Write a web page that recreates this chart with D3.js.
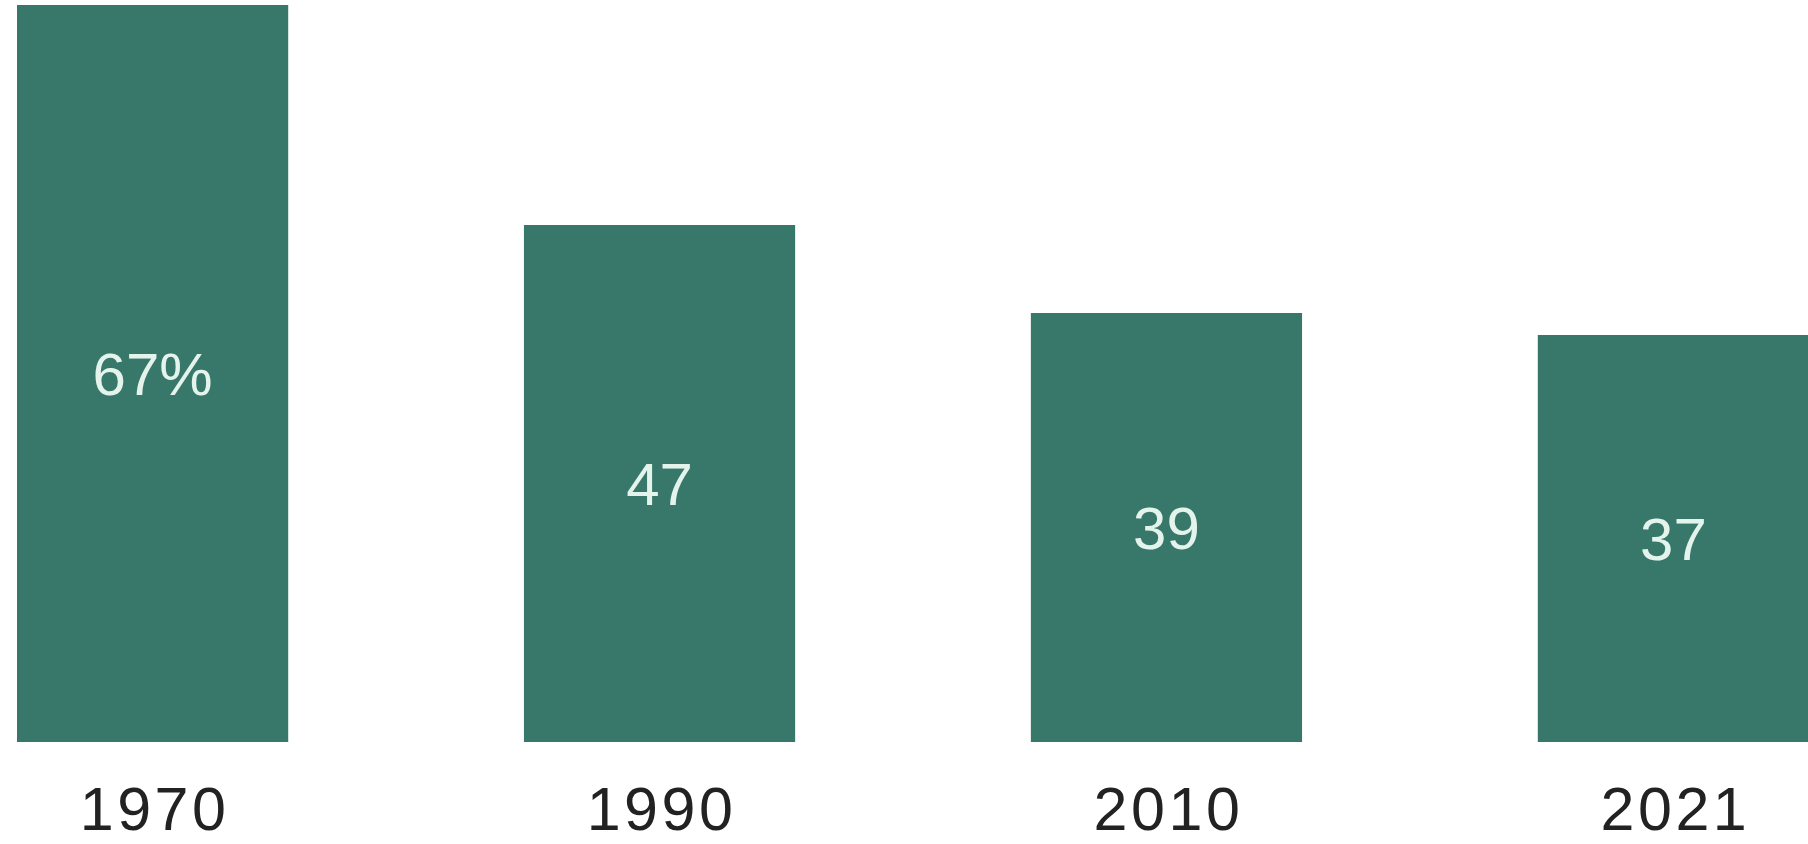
<!DOCTYPE html>
<html>
<head>
<meta charset="utf-8">
<script src="https://cdn.jsdelivr.net/npm/d3@7"></script>
<style>
  html, body { margin: 0; padding: 0; background: #fff; }
  svg { display: block; }
</style>
</head>
<body>
<svg id="chart"></svg>
<script>
// data
const years = ["1970", "1990", "2010", "2021"];
const shares = [67, 47, 39, 37];
const valueLabels = ["67%", "47", "39", "37"];

const width = 1808;
const height = 844;
const barColor = "#37786a";

const svg = d3.select("#chart")
  .attr("width", width)
  .attr("height", height);

// Scales
const x = d3.scaleBand()
  .domain(years)
  .range([17, 1809])
  .paddingInner(0.465)
  .paddingOuter(0);

const y = d3.scaleLinear()
  .domain([0, 67])
  .range([742, 5]);

const data = years.map((yr, i) => ({ year: yr, value: shares[i], label: valueLabels[i] }));

// bars
svg.selectAll(".bar")
  .data(data)
  .enter()
  .append("rect")
  .attr("class", "bar")
  .attr("x", d => x(d.year))
  .attr("y", d => y(d.value))
  .attr("width", x.bandwidth())
  .attr("height", d => y(0) - y(d.value))
  .attr("fill", barColor);

// value labels in the middle of each bar
svg.selectAll(".val")
  .data(data)
  .enter()
  .append("text")
  .attr("class", "val")
  .attr("x", d => x(d.year) + x.bandwidth() / 2)
  .attr("y", d => (y(d.value) + y(0)) / 2)
  .attr("dy", "0.36em")
  .attr("text-anchor", "middle")
  .attr("fill", "#e4f4ec")
  .style("font-family", "'Liberation Sans', Arial, sans-serif")
  .style("font-size", "60px")
  .text(d => d.label);

// X axis, no line or ticks
svg.append("g")
  .attr("transform", `translate(0,${y(0)})`)
  .call(d3.axisBottom(x).tickSize(0).tickPadding(0))
  .call(g => g.select(".domain").remove())
  .selectAll("text")
  .attr("y", 88)
  .attr("dy", 0)
  .attr("dx", 2)
  .attr("fill", "#222")
  .style("font-family", "'Liberation Sans', Arial, sans-serif")
  .style("font-size", "61px")
  .style("letter-spacing", "3.5px");
</script>
</body>
</html>
